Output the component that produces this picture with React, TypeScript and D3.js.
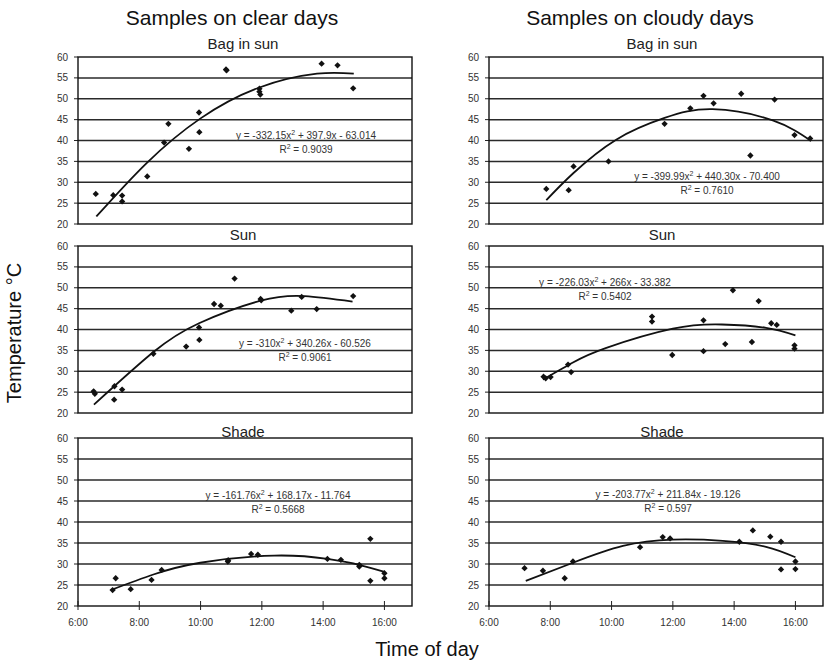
import React from "react";
import * as d3 from "d3";

// ---- data (hour of day, temperature °C) ----
const hourTicks = [6, 8, 10, 12, 14, 16];
const hourTickLabels = ["6:00", "8:00", "10:00", "12:00", "14:00", "16:00"];
const tempTicks = [20, 25, 30, 35, 40, 45, 50, 55, 60];

const columnTitles = ["Samples on clear days", "Samples on cloudy days"];
const rowTitles = ["Bag in sun", "Sun", "Shade"];

const clearBagPoints = [
  [6.58, 27.2], [7.15, 26.9], [7.44, 26.8], [7.44, 25.4], [8.26, 31.4],
  [8.81, 39.5], [8.95, 44.0], [9.62, 38.0], [9.95, 46.7], [9.96, 42.0],
  [10.83, 57.0], [10.85, 56.8], [11.92, 52.4], [11.92, 51.7], [11.95, 51.0],
  [13.95, 58.4], [14.47, 58.0], [14.98, 52.5],
];
const clearBagTrend = [[6.6, 21.8], [8.24, 34.6], [10.0, 45.3], [11.92, 52.7], [13.8, 56.0], [15.0, 56.0]];

const cloudyBagPoints = [
  [7.87, 28.4], [8.6, 28.1], [8.76, 33.8], [9.9, 35.0], [11.73, 44.0],
  [12.57, 47.7], [13.0, 50.7], [13.33, 48.9], [14.23, 51.2], [14.53, 36.4],
  [15.32, 49.8], [15.97, 41.3], [16.48, 40.5],
];
const cloudyBagTrend = [[7.87, 25.7], [8.74, 32.1], [10.15, 40.2], [11.73, 45.4], [13.3, 47.5], [15.26, 44.8], [16.51, 39.9]];

const clearSunPoints = [
  [6.51, 25.2], [6.55, 24.6], [7.18, 23.2], [7.19, 26.4], [7.44, 25.6],
  [8.46, 34.2], [9.53, 35.9], [9.95, 40.5], [9.96, 37.5], [10.44, 46.1],
  [10.66, 45.7], [11.11, 52.2], [11.96, 47.3], [11.98, 47.0], [12.96, 44.5],
  [13.3, 47.8], [13.79, 44.9], [14.98, 48.0],
];
const clearSunTrend = [[6.52, 22.0], [8.46, 34.6], [9.95, 41.5], [11.96, 46.9], [13.4, 48.0], [14.96, 46.7]];

const cloudySunPoints = [
  [7.78, 28.7], [7.85, 28.3], [8.01, 28.6], [8.58, 31.6], [8.68, 29.8],
  [11.32, 43.1], [11.32, 41.9], [11.98, 33.9], [13.0, 42.2], [13.0, 34.8],
  [13.71, 36.5], [13.96, 49.4], [14.58, 37.0], [14.8, 46.8], [15.21, 41.5],
  [15.39, 41.1], [15.97, 36.2], [15.97, 35.4],
];
const cloudySunTrend = [[7.76, 28.0], [8.74, 32.1], [9.83, 35.6], [12.0, 40.2], [13.6, 41.2], [15.04, 40.4], [16.0, 38.6]];

const clearShadePoints = [
  [7.13, 23.8], [7.23, 26.6], [7.72, 24.0], [8.4, 26.2], [8.73, 28.6],
  [10.89, 30.6], [10.9, 30.9], [11.65, 32.4], [11.87, 32.2], [14.14, 31.2],
  [14.58, 31.0], [15.18, 29.4], [15.18, 29.8], [15.54, 36.0], [15.54, 26.0],
  [16.0, 27.8], [16.0, 26.6],
];
const clearShadeTrend = [[7.07, 23.8], [8.46, 27.5], [9.99, 30.3], [12.4, 32.0], [14.14, 31.2], [15.23, 29.7], [16.0, 28.1]];

const cloudyShadePoints = [
  [7.16, 29.0], [7.76, 28.4], [8.47, 26.6], [8.74, 30.6], [10.93, 34.0],
  [11.67, 36.4], [11.91, 36.1], [14.17, 35.3], [14.61, 38.0], [15.18, 36.5],
  [15.53, 35.3], [15.53, 28.7], [16.0, 30.6], [16.0, 28.8],
];
const cloudyShadeTrend = [[7.2, 26.0], [8.74, 30.3], [10.37, 34.3], [12.0, 35.8], [13.63, 35.5], [15.04, 34.1], [16.0, 31.6]];

const equations = [
  ["y = -332.15x² + 397.9x - 63.014", "R² = 0.9039"],
  ["y = -399.99x² + 440.30x - 70.400", "R² = 0.7610"],
  ["y = -310x² + 340.26x - 60.526", "R² = 0.9061"],
  ["y = -226.03x² + 266x - 33.382", "R² = 0.5402"],
  ["y = -161.76x² + 168.17x - 11.764", "R² = 0.5668"],
  ["y = -203.77x² + 211.84x - 19.126", "R² = 0.597"],
];

// ---- layout ----
const W = 826;
const H = 663;
const colLeft = [78, 489];
const plotW = 334;
const rowTop = [57, 246, 438];
const rowH = [167, 167, 168];
const subtitleBase = [49, 240, 437];
const titleCenters = [232, 640];
// equation anchor offsets inside each panel (centre x, baseline y)
const eqOffsets = [[228, 82], [218, 123], [227, 101], [116, 40], [200, 61], [179, 60]];

const FONT = "'Liberation Sans', Arial, Helvetica, sans-serif";

const panels = [
  { col: 0, row: 0, points: clearBagPoints, trend: clearBagTrend, eq: 0 },
  { col: 1, row: 0, points: cloudyBagPoints, trend: cloudyBagTrend, eq: 1 },
  { col: 0, row: 1, points: clearSunPoints, trend: clearSunTrend, eq: 2 },
  { col: 1, row: 1, points: cloudySunPoints, trend: cloudySunTrend, eq: 3 },
  { col: 0, row: 2, points: clearShadePoints, trend: clearShadeTrend, eq: 4 },
  { col: 1, row: 2, points: cloudyShadePoints, trend: cloudyShadeTrend, eq: 5 },
];

function SupText({ x, y, text }: { x: number; y: number; text: string }) {
  const parts = text.split("²");
  return (
    <text x={x} y={y} textAnchor="middle" fontSize={10} fill="#333">
      {parts.map((part, i) => (
        <React.Fragment key={i}>
          <tspan dy={i > 0 ? 4 : 0}>{part}</tspan>
          {i < parts.length - 1 && (
            <tspan dy={-4} fontSize={7}>2</tspan>
          )}
        </React.Fragment>
      ))}
    </text>
  );
}

function Panel({ p }: { p: any }) {
  const x0 = colLeft[p.col];
  const y0 = rowTop[p.row];
  const h = rowH[p.row];
  const x = d3.scaleLinear().domain([6, 16.9]).range([x0, x0 + plotW]);
  const y = d3.scaleLinear().domain([20, 60]).range([y0 + h, y0]);
  const line = d3
    .line<number[]>()
    .x((d) => x(d[0]))
    .y((d) => y(d[1]))
    .curve(d3.curveNatural);
  const marker = d3.symbol(d3.symbolSquare, 20)() as string;
  const [eqText, r2Text] = equations[p.eq];
  const [ex, ey] = eqOffsets[p.eq];
  const isBottom = p.row === 2;

  return (
    <g>
      <rect x={x0} y={y0} width={plotW} height={h} fill="#fff" />
      {tempTicks.map((t) => (
        <g key={t}>
          {t > 20 && t < 60 && (
            <line x1={x0} x2={x0 + plotW} y1={y(t)} y2={y(t)} stroke="#2a2a2a" strokeWidth={1.5} />
          )}
          <line x1={x0 - 4} x2={x0} y1={y(t)} y2={y(t)} stroke="#222" strokeWidth={1} />
          <text x={x0 - 10} y={y(t)} dy="0.35em" textAnchor="end" fontSize={10} fill="#333">
            {t}
          </text>
        </g>
      ))}
      <rect x={x0} y={y0} width={plotW} height={h} fill="none" stroke="#111" strokeWidth={1.4} />
      {isBottom &&
        hourTicks.map((t, i) => (
          <g key={t}>
            <line x1={x(t)} x2={x(t)} y1={y0 + h - 5} y2={y0 + h + 4} stroke="#222" strokeWidth={1} />
            <text x={x(t)} y={y0 + h + 16} dy="0.35em" textAnchor="middle" fontSize={10} fill="#333">
              {hourTickLabels[i]}
            </text>
          </g>
        ))}
      <text
        x={x0 + plotW / 2 + (p.col === 1 ? 6 : -2)}
        y={subtitleBase[p.row]}
        textAnchor="middle"
        fontSize={15}
        fill="#222"
      >
        {rowTitles[p.row]}
      </text>
      <path d={line(p.trend) as string} fill="none" stroke="#111" strokeWidth={1.8} />
      {p.points.map((d: number[], i: number) => (
        <path
          key={i}
          d={marker}
          transform={`translate(${x(d[0])},${y(d[1])}) rotate(45)`}
          fill="#111"
        />
      ))}
      <SupText x={x0 + ex} y={y0 + ey} text={eqText} />
      <SupText x={x0 + ex} y={y0 + ey + 14} text={r2Text} />
    </g>
  );
}

export default function App() {
  return (
    <svg
      width={W}
      height={H}
      style={{ position: "absolute", left: 0, top: 0, background: "#fff" }}
      fontFamily={FONT}
    >
      <rect width={W} height={H} fill="#fff" />
      {columnTitles.map((t, i) => (
        <text key={t} x={titleCenters[i]} y={25} textAnchor="middle" fontSize={21} fill="#111">
          {t}
        </text>
      ))}
      {panels.map((p, i) => (
        <Panel key={i} p={p} />
      ))}
      <text
        transform="translate(21,333) rotate(-90)"
        textAnchor="middle"
        fontSize={20}
        fill="#111"
      >
        Temperature °C
      </text>
      <text x={427} y={656} textAnchor="middle" fontSize={20} fill="#111">
        Time of day
      </text>
    </svg>
  );
}
